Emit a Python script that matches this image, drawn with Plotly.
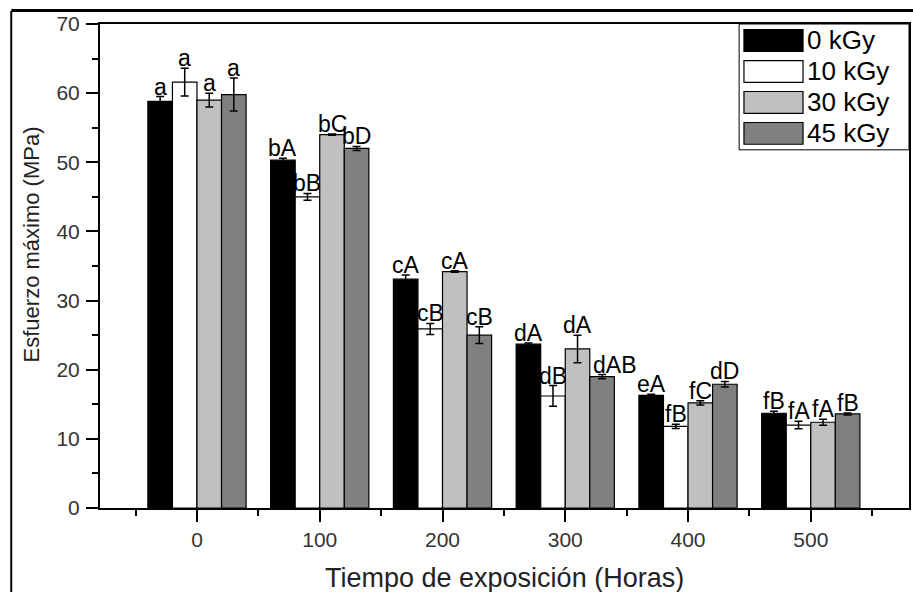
import plotly.graph_objects as go

# Exposure times (hours) and irradiation doses
hours = [0, 100, 200, 300, 400, 500]
doses = ["0 kGy", "10 kGy", "30 kGy", "45 kGy"]
colors = ["#000000", "#ffffff", "#c0c0c0", "#808080"]

# Maximum stress (MPa) per dose, one value per exposure time
stress_0 = [58.8, 50.3, 33.1, 23.7, 16.3, 13.7]
stress_10 = [61.6, 45.0, 25.9, 16.2, 11.8, 12.0]
stress_30 = [59.0, 54.0, 34.2, 23.0, 15.2, 12.4]
stress_45 = [59.8, 52.0, 25.0, 19.0, 17.9, 13.6]

# Standard deviations
err_0 = [0.7, 0.3, 0.6, 0.15, 0.15, 0.3]
err_10 = [2.0, 0.5, 0.8, 1.5, 0.3, 0.55]
err_30 = [1.0, 0.1, 0.1, 2.0, 0.3, 0.45]
err_45 = [2.4, 0.3, 1.2, 0.3, 0.4, 0.15]

# Significance letters above each bar
letters_0 = ["a", "bA", "cA", "dA", "eA", "fB"]
letters_10 = ["a", "bB", "cB", "dB", "fB", "fA"]
letters_30 = ["a", "bC", "cA", "dA", "fC", "fA"]
letters_45 = ["a", "bD", "cB", "dAB", "dD", "fB"]

values = [stress_0, stress_10, stress_30, stress_45]
errors = [err_0, err_10, err_30, err_45]
letters = [letters_0, letters_10, letters_30, letters_45]

FONT = "Liberation Sans, Arial, sans-serif"
BARGAP = 0.2
STEP = 100

fig = go.Figure()
for name, col, ys, es in zip(doses, colors, values, errors):
    fig.add_trace(go.Bar(
        x=hours, y=ys, name=name,
        marker=dict(color=col, line=dict(color="black", width=1.2)),
        error_y=dict(type="data", array=es, color="black", thickness=1.5, width=4),
        showlegend=False,
    ))

# letter annotations centred over each bar, just above its error bar
n = len(doses)
bar_w = STEP * (1 - BARGAP) / n
annotations = []
for i, (ys, es, labs) in enumerate(zip(values, errors, letters)):
    off = (i - (n - 1) / 2) * bar_w
    for h, y, e, t in zip(hours, ys, es, labs):
        xs = 12 if t == "dAB" else 0
        annotations.append(dict(
            x=h + off, y=y + e, xref="x", yref="y", text=t, showarrow=False,
            xanchor="center", yanchor="bottom", yshift=-5, xshift=xs,
            font=dict(family=FONT, size=23, color="black"),
        ))

# axis titles
annotations.append(dict(
    text="Tiempo de exposición (Horas)", xref="paper", yref="paper",
    x=0.5, y=-0.145, xanchor="center", yanchor="middle", showarrow=False,
    font=dict(family=FONT, size=27, color="#222222"),
))
annotations.append(dict(
    text="Esfuerzo máximo (MPa)", xref="paper", yref="paper",
    x=-0.085, y=0.545, xanchor="center", yanchor="middle", textangle=-90,
    showarrow=False, font=dict(family=FONT, size=22, color="#222222"),
))

# legend box drawn with large swatches
shapes = [dict(type="rect", xref="paper", yref="paper", x0=0.79, x1=1.0,
               y0=0.74, y1=1.0, line=dict(color="black", width=1),
               fillcolor="white", layer="above")]
row_y = [0.966, 0.902, 0.838, 0.774]
sw_h = 0.045
for name, col, ry in zip(doses, colors, row_y):
    shapes.append(dict(type="rect", xref="paper", yref="paper",
                       x0=0.796, x1=0.869, y0=ry - sw_h / 2, y1=ry + sw_h / 2,
                       line=dict(color="black", width=1.2), fillcolor=col,
                       layer="above"))
    annotations.append(dict(
        text=name, xref="paper", yref="paper", x=0.872, y=ry,
        xanchor="left", yanchor="middle", showarrow=False,
        font=dict(family=FONT, size=26, color="black"),
    ))

# outer frame lines (left and top)
shapes.append(dict(type="line", xref="paper", yref="paper", x0=-0.1097, x1=-0.1097,
                   y0=-0.2, y1=1.027, line=dict(color="black", width=2)))
shapes.append(dict(type="line", xref="paper", yref="paper", x0=-0.1097, x1=1.02,
                   y0=1.028, y1=1.028, line=dict(color="black", width=3)))

fig.update_layout(
    width=913, height=592,
    margin=dict(l=100, r=2, t=24, b=84),
    paper_bgcolor="white", plot_bgcolor="white",
    barmode="group", bargap=BARGAP, bargroupgap=0,
    annotations=annotations, shapes=shapes,
    font=dict(family=FONT, color="#333333"),
)
fig.update_xaxes(
    range=[-79, 580], tickvals=hours, ticktext=[str(h) for h in hours],
    ticks="outside", ticklen=12, tickwidth=1.5, tickcolor="black",
    minor=dict(dtick=50, tick0=0, ticks="outside", ticklen=6, tickwidth=1.5, tickcolor="black"),
    showline=True, linewidth=2, linecolor="black", mirror=True,
    showgrid=False, zeroline=False,
    tickfont=dict(family=FONT, size=21, color="#333333"),
)
fig.update_yaxes(
    range=[0, 70], dtick=10, tick0=0,
    ticks="outside", ticklen=12, tickwidth=1.5, tickcolor="black",
    minor=dict(dtick=5, tick0=0, ticks="outside", ticklen=6, tickwidth=1.5, tickcolor="black"),
    showline=True, linewidth=2, linecolor="black", mirror=True,
    showgrid=False, zeroline=False, ticklabelstandoff=2,
    tickfont=dict(family=FONT, size=21, color="#333333"),
)

fig.write_html("out.html")
